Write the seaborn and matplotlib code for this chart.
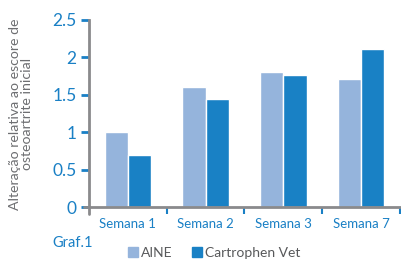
import numpy as np
import matplotlib
matplotlib.use("Agg")
import matplotlib.pyplot as plt
import seaborn as sns
import pandas as pd

# data
semanas = ["Semana 1", "Semana 2", "Semana 3", "Semana 7"]
aine = [1.00, 1.60, 1.80, 1.71]
cartrophen = [0.69, 1.44, 1.76, 2.11]
series_names = ["AINE", "Cartrophen Vet"]
yticks = [0, 0.5, 1, 1.5, 2, 2.5]
ytick_labels = ["0", "0.5", "1", "1.5", "2", "2.5"]

df = pd.DataFrame({"semana": semanas * 2,
                   "valor": aine + cartrophen,
                   "serie": [series_names[0]] * 4 + [series_names[1]] * 4})

sns.set_style("white")
plt.rcParams['font.family'] = ['Lato', 'DejaVu Sans']

blue_txt = '#1a80c5'
gray = '#8a8a8c'
palette = {"AINE": '#95b4dc', "Cartrophen Vet": '#1981c5'}

fig = plt.figure(figsize=(4.02, 2.60), dpi=100)
ax = fig.add_axes([89/402, 53/260, 311/402, 187/260])

sns.barplot(data=df, x="semana", y="valor", hue="serie", palette=palette,
            width=0.6, gap=0, saturation=1, ax=ax, legend=False)

ax.set_xlim(-0.5, 3.5)
ax.set_ylim(0, 2.5)
ax.set_yticks(yticks)
ax.set_yticklabels(ytick_labels, fontsize=12.5, color=blue_txt)
ax.tick_params(axis='y', length=6, width=2, color=blue_txt, pad=3, left=True)

ax.set_xticks(range(4))
ax.set_xticklabels(semanas, fontsize=9.5, color=blue_txt)
ax.tick_params(axis='x', which='major', length=0, pad=8)
ax.set_xticks([0.5, 1.5, 2.5, 3.5], minor=True)
ax.tick_params(axis='x', which='minor', length=5, width=1.5, color=blue_txt, bottom=True)

ax.set_xlabel("")
ax.set_ylabel("")
for s in ['top', 'right']:
    ax.spines[s].set_visible(False)
for s in ['left', 'bottom']:
    ax.spines[s].set_color(gray)
    ax.spines[s].set_linewidth(2)

# small overhang of the axis lines past the corner
ax.plot([-0.015, 0], [0, 0], transform=ax.transAxes, color=gray, lw=2, clip_on=False)
ax.plot([0, 0], [-0.035, 0], transform=ax.transAxes, color=gray, lw=2, clip_on=False)

fig.text(21/402, 0.56, "Alteração relativa ao escore de\nosteoartrite inicial",
         rotation=90, ha='center', va='center', fontsize=10.2, color='#6d6e71',
         linespacing=1.0, multialignment='center')

fig.text(52/402, (260-243)/260, "Graf.1", fontsize=10.5, color=blue_txt, va='center')

handles = [plt.Line2D([], [], marker='s', linestyle='', markersize=6.5,
                      markerfacecolor=palette[n], markeredgecolor=palette[n]) for n in series_names]
fig.legend(handles, series_names, loc='center left', bbox_to_anchor=(129/402, 7/260),
           ncol=2, frameon=False, fontsize=10, handlelength=0.6, handletextpad=0.25,
           columnspacing=1.5, labelcolor='#58595b', borderaxespad=0, borderpad=0)

fig.savefig("out.png", dpi=100)
